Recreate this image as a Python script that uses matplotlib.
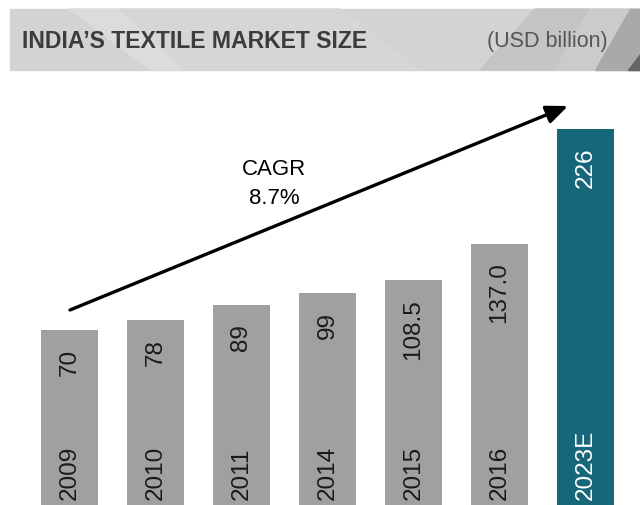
import matplotlib.pyplot as plt
from matplotlib.patches import Rectangle, Polygon

years = ["2009", "2010", "2011", "2014", "2015", "2016", "2023E"]
values = [70, 78, 89, 99, 108.5, 137.0, 226]
value_labels = ["70", "78", "89", "99", "108.5", "137.0", "226"]
bar_colors = ["#a0a0a3"] * 6 + ["#17677b"]
text_colors = ["#1a1a1a"] * 6 + ["#ffffff"]

title = "INDIA\u2019S TEXTILE MARKET SIZE"
unit = "(USD billion)"
cagr = "CAGR\n8.7%"

FONT = "Liberation Sans"


def main():
    fig = plt.figure(figsize=(6.4, 5.06), dpi=100)
    ax = fig.add_axes([0, 0, 1, 1])

    base = -65.7
    x = list(range(len(years)))
    ax.bar(x, [v - base for v in values], bottom=base, width=0.663,
           color=bar_colors, zorder=2)
    ax.set_xlim(-0.808, 6.634)
    ax.set_ylim(base, base + 506 / 1.29)
    ax.axis("off")

    for i in x:
        ax.annotate(value_labels[i], (i, values[i]), xytext=(0, -13),
                    textcoords="offset points", rotation=90, ha="center",
                    va="top", fontsize=17.5, color=text_colors[i], family=FONT,
                    zorder=3)
        ax.annotate(years[i], (i, base), xytext=(0, 4),
                    textcoords="offset points", rotation=90, ha="center",
                    va="bottom", fontsize=17.5, color=text_colors[i],
                    family=FONT, zorder=3)

    # growth arrow
    ax.annotate("", xy=(568 / 640, 1 - 107 / 506), xytext=(70 / 640, 1 - 311 / 506),
                xycoords="axes fraction", textcoords="axes fraction",
                arrowprops=dict(arrowstyle="-|>,head_length=1.3,head_width=0.55",
                                color="black", lw=2.4, shrinkA=0, shrinkB=0))
    ax.text(274 / 640, 1 - 184 / 506, cagr, transform=ax.transAxes,
            ha="center", va="center", fontsize=16, family=FONT,
            linespacing=1.55, color="black")

    # header band
    hx0, hy0, hx1, hy1 = 10 / 640, 1 - 71 / 506, 1.0, 1 - 10 / 506
    fig.patches.append(Rectangle((hx0, hy0), hx1 - hx0, hy1 - hy0,
                                 transform=fig.transFigure, color="#d3d3d4",
                                 zorder=0))
    shapes = [
        ([(70, 10), (120, 10), (185, 71), (150, 71)], "#dcdcdd"),
        ([(120, 10), (340, 10), (420, 71), (185, 71)], "#d6d6d7"),
        ([(535, 10), (590, 10), (555, 71), (480, 71)], "#c4c4c6"),
        ([(590, 10), (640, 10), (640, 25), (605, 71), (555, 71)], "#cbcbcc"),
        ([(630, 10), (640, 10), (640, 71), (595, 71)], "#a9a9ab"),
        ([(640, 55), (640, 71), (628, 71)], "#666668"),
    ]
    for pts, col in shapes:
        fig.patches.append(Polygon([(px / 640, 1 - py / 506) for px, py in pts],
                                   closed=True, transform=fig.transFigure,
                                   color=col, zorder=0))
    fig.text(22 / 640, 1 - 42 / 506, title, ha="left", va="center",
             fontsize=16.6, fontweight="bold", color="#3c3c3e", family=FONT)
    fig.text(608 / 640, 1 - 42 / 506, unit, ha="right", va="center",
             fontsize=15.5, color="#555557", family=FONT)

    fig.savefig("out.png", dpi=100)


if __name__ == "__main__":
    main()
